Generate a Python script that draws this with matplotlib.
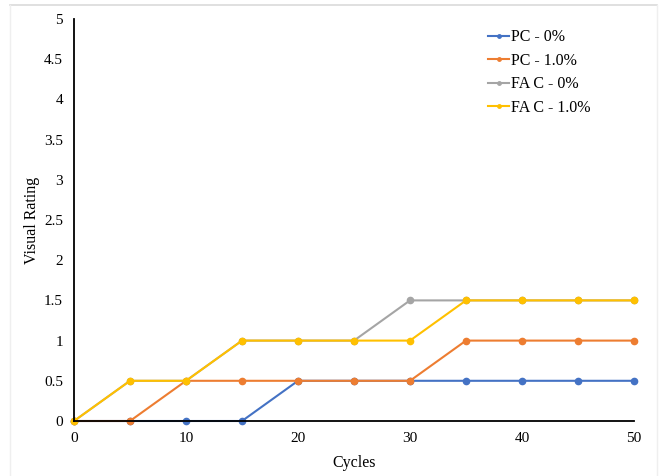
import matplotlib
matplotlib.use("Agg")
import matplotlib.pyplot as plt
from matplotlib.lines import Line2D

plt.rcParams['font.family'] = ['Liberation Serif', 'DejaVu Serif']

cycles = [0, 5, 10, 15, 20, 25, 30, 35, 40, 45, 50]
pc_0 = [0, 0, 0, 0, 0.5, 0.5, 0.5, 0.5, 0.5, 0.5, 0.5]
pc_10 = [0, 0, 0.5, 0.5, 0.5, 0.5, 0.5, 1, 1, 1, 1]
fac_0 = [0, 0.5, 0.5, 1, 1, 1, 1.5, 1.5, 1.5, 1.5, 1.5]
fac_10 = [0, 0.5, 0.5, 1, 1, 1, 1, 1.5, 1.5, 1.5, 1.5]

series = [
    ("PC - 0%", pc_0, "#4472C4"),
    ("PC - 1.0%", pc_10, "#ED7D31"),
    ("FA C - 0%", fac_0, "#A5A5A5"),
    ("FA C - 1.0%", fac_10, "#FFC000"),
]

fig = plt.figure(figsize=(6.6, 4.76), dpi=100)

# faint chart-area frame (top edge stronger, sides barely visible)
W, H = 660, 476
fig.add_artist(Line2D([10 / W, 657 / W], [1 - 5 / H, 1 - 5 / H],
                      transform=fig.transFigure, color="#DADADA", lw=1.2))
for xpx in (10, 657):
    fig.add_artist(Line2D([xpx / W, xpx / W], [1 - 5 / H, 0],
                          transform=fig.transFigure, color="#EFEFEF", lw=1.0))

ax = fig.add_axes([74 / W, 1 - 421 / H, 560 / W, 402 / H])

for label, vals, color in series:
    ax.plot(cycles, vals, color=color, linewidth=1.5, marker="o",
            markersize=4.5, label=label, clip_on=False)

ax.set_xlim(0, 50)
ax.set_ylim(0, 5)
ax.set_xticks(range(0, 51, 10))
ax.set_yticks([0, 0.5, 1, 1.5, 2, 2.5, 3, 3.5, 4, 4.5, 5])
ax.set_yticklabels(["0", "0.5", "1", "1.5", "2", "2.5", "3", "3.5", "4", "4.5", "5"])
ax.tick_params(axis="both", length=0, labelsize=11, pad=8)
ax.spines["top"].set_visible(False)
ax.spines["right"].set_visible(False)
ax.spines["left"].set_linewidth(1.3)
ax.spines["bottom"].set_linewidth(1.3)
ax.set_xlabel("Cycles", fontsize=11.5, labelpad=7)
ax.set_ylabel("Visual Rating", fontsize=11.5, labelpad=3)

ax.legend(loc="upper left", bbox_to_anchor=(0.714, 1.01), frameon=False,
          fontsize=11.5, handlelength=1.3, handletextpad=0.1,
          labelspacing=0.47, markerscale=0.55)

fig.savefig("out.png", dpi=100)
